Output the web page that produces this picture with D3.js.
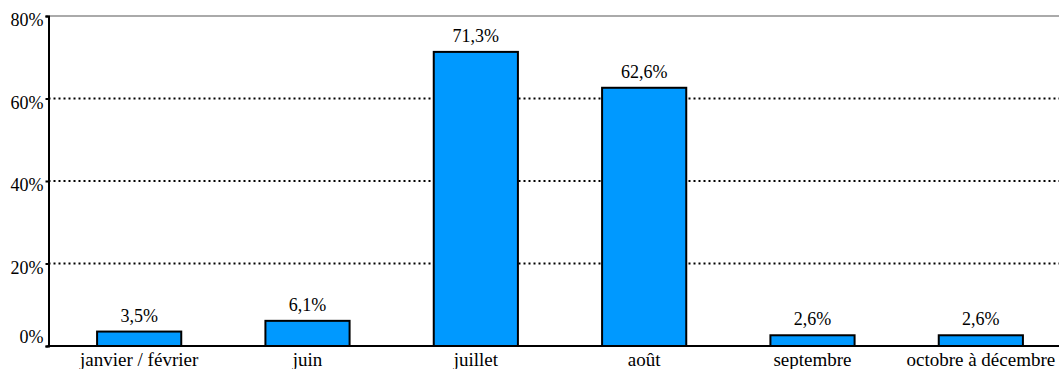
<!DOCTYPE html>
<html>
<head>
<meta charset="utf-8">
<script src="https://cdn.jsdelivr.net/npm/d3@7"></script>
<style>
  html, body { margin: 0; padding: 0; background: #fff; }
  svg { display: block; }
</style>
</head>
<body>
<svg id="chart" width="1059" height="369"></svg>
<script>
// Share of stays by period
const categories = ["janvier / février", "juin", "juillet", "août", "septembre", "octobre à décembre"];
const values = [3.5, 6.1, 71.3, 62.6, 2.6, 2.6];
const valueLabels = ["3,5%", "6,1%", "71,3%", "62,6%", "2,6%", "2,6%"];
const yTicks = [0, 20, 40, 60, 80];
const yTickLabels = ["0%", "20%", "40%", "60%", "80%"];

const FONT = "Liberation Serif";
const FONT_SIZE = 18;
const svg = d3.select("#chart");
const axisX = 48.5;
const plotRight = 1059;

const x = d3.scaleBand()
  .domain(categories)
  .range([55, 1065])
  .paddingInner(0.5)
  .paddingOuter(0.25);

const y = d3.scaleLinear()
  .domain([0, 80])
  .range([346, 16]);

// Gridlines: dotted at intermediate ticks, grey frame line at the top
yTicks.forEach(t => {
  if (t === 0) return;
  const yy = y(t);
  svg.append("line")
    .attr("x1", axisX).attr("x2", plotRight)
    .attr("y1", yy).attr("y2", yy)
    .attr("stroke", t === 80 ? "#aaaaaa" : "#000")
    .attr("stroke-width", 2)
    .attr("stroke-dasharray", t === 80 ? null : "2,3");
});

// Bars
svg.selectAll("rect.bar")
  .data(values)
  .enter().append("rect")
  .attr("class", "bar")
  .attr("x", (d, i) => x(categories[i]))
  .attr("y", d => y(d))
  .attr("width", x.bandwidth())
  .attr("height", d => y(0) - y(d))
  .attr("fill", "#0099ff")
  .attr("stroke", "#000")
  .attr("stroke-width", 2);

// Value labels
svg.selectAll("text.val")
  .data(values)
  .enter().append("text")
  .attr("class", "val")
  .attr("x", (d, i) => x(categories[i]) + x.bandwidth() / 2)
  .attr("y", d => y(d) - 10)
  .attr("text-anchor", "middle")
  .attr("font-family", FONT)
  .attr("font-size", FONT_SIZE)
  .attr("fill", "#000")
  .text((d, i) => valueLabels[i]);

// Y axis
const yAxis = d3.axisLeft(y)
  .tickValues(yTicks)
  .tickFormat((d, i) => yTickLabels[i])
  .tickSize(3)
  .tickPadding(2);
const gy = svg.append("g")
  .attr("transform", `translate(${axisX},0)`)
  .call(yAxis);
gy.attr("font-family", FONT).attr("font-size", FONT_SIZE);
gy.select(".domain").attr("stroke", "#000").attr("stroke-width", 2);
gy.selectAll(".tick line").attr("stroke", "#000").attr("stroke-width", 2);
gy.selectAll(".tick text")
  .attr("fill", "#000")
  .attr("dy", d => d === 0 ? "-0.22em" : "0.55em");

// X axis baseline and category labels
const xAxis = d3.axisBottom(x).tickSize(0).tickPadding(7);
const gx = svg.append("g")
  .attr("transform", `translate(0,${y(0)})`)
  .call(xAxis);
gx.attr("font-family", FONT).attr("font-size", 19);
gx.select(".domain").remove();
svg.append("line")
  .attr("x1", axisX - 1).attr("x2", plotRight)
  .attr("y1", y(0)).attr("y2", y(0))
  .attr("stroke", "#000").attr("stroke-width", 2);
gx.selectAll(".tick text").attr("fill", "#000");
</script>
</body>
</html>
